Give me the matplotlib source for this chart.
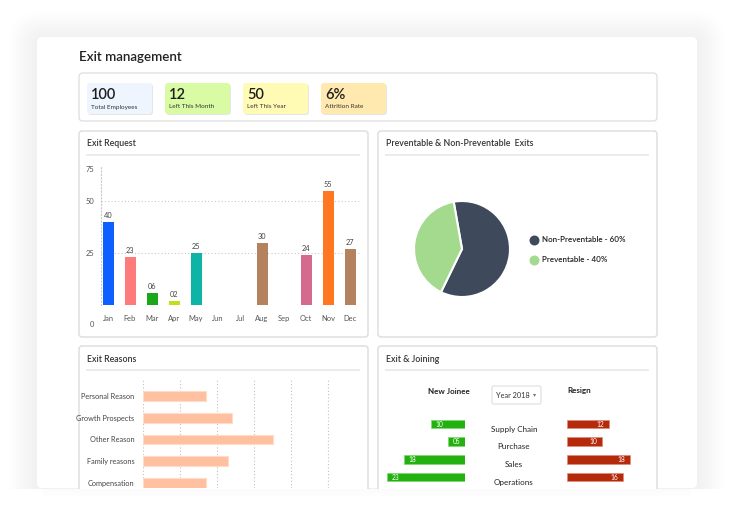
import matplotlib
matplotlib.use("Agg")
import matplotlib.pyplot as plt
from matplotlib.patches import FancyBboxPatch
from matplotlib.transforms import ScaledTranslation, blended_transform_factory

plt.rcParams['font.family'] = ['Lato', 'DejaVu Sans']

# ---- data ----
kpi_values = ['100', '12', '50', '6%']
kpi_labels = ['Total Employees', 'Left This Month', 'Left This Year', 'Attrition Rate']
kpi_colors = ['#EEF5FE', '#D9FBA3', '#FFFBB5', '#FFE9AE']

months = ['Jan', 'Feb', 'Mar', 'Apr', 'May', 'Jun', 'Jul', 'Aug', 'Sep', 'Oct', 'Nov', 'Dec']
exit_requests = [40, 23, 6, 2, 25, 0, 0, 30, 0, 24, 55, 27]
month_colors = ['#0B60FF', '#FF7B7B', '#1AA81A', '#C3DE1C', '#10B4A4', '#999999', '#999999',
                '#B5825F', '#999999', '#D46B8E', '#FF7722', '#B5825F']
req_ticks = [0, 25, 50, 75]

pie_labels = ['Non-Preventable', 'Preventable']
pie_values = [60, 40]
pie_colors = ['#3E4A5B', '#A3DA8D']

reasons = ['Personal Reason', 'Growth Prospects', 'Other Reason', 'Family reasons', 'Compensation']
reason_counts = [17, 24, 35, 23, 17]

departments = ['Supply Chain', 'Purchase', 'Sales', 'Operations']
new_joinee = [10, 5, 18, 23]
resign = [12, 10, 18, 16]

W, H = 734, 524
fig = plt.figure(figsize=(W / 100, H / 100), dpi=100, facecolor='white')

bg = fig.add_axes([0, 0, 1, 1])
bg.set_xlim(0, W)
bg.set_ylim(H, 0)
bg.axis('off')
bg.set_zorder(-1)


def px_axes(x0, y0, x1, y1):
    a = fig.add_axes([x0 / W, 1 - y1 / H, (x1 - x0) / W, (y1 - y0) / H])
    a.patch.set_alpha(0)
    return a


def box(x0, y0, x1, y1, fc='white', ec='#E2E2E2', lw=1, r=3, alpha=1, z=1):
    bg.add_patch(FancyBboxPatch((x0, y0), x1 - x0, y1 - y0,
                                boxstyle='round,pad=0,rounding_size=%g' % r,
                                fc=fc, ec=ec, lw=lw, alpha=alpha, zorder=z))


# outer card with soft shadow
for i in range(14, 0, -1):
    box(37 - i * 2, 37 - i * 2 + 2, 697 + i * 2, 488 + i * 2 + 2, fc='#A0A0A0', ec='none',
        r=6 + i * 2, alpha=0.007, z=0)
box(37, 37, 697, 488, fc='white', ec='none', r=5, z=0.5)

bg.text(79, 57, 'Exit management', fontsize=9.6, fontweight='semibold', color='#222222',
        va='center', ha='left')

# KPI strip
box(79, 73, 657, 121, ec='#E0E0E0', lw=1, r=4)
for i, (v, lab, c) in enumerate(zip(kpi_values, kpi_labels, kpi_colors)):
    x0 = 87 + i * 78
    box(x0 + 1, 84, x0 + 66, 115, fc='#E6E6E6', ec='none', r=3, z=1)
    box(x0, 83, x0 + 65, 114, fc=c, ec='none', r=3, z=1.2)
    bg.text(x0 + 4, 95, v, fontsize=10.5, fontweight='semibold', color='#1E1E1E',
            va='center', ha='left', zorder=2)
    bg.text(x0 + 4, 107, lab, fontsize=4.6, color='#333333', va='center', ha='left', zorder=2)

# panels
panels = [(79, 131, 368, 337, 'Exit Request'),
          (378, 131, 657, 337, 'Preventable & Non-Preventable  Exits'),
          (79, 346, 368, 500, 'Exit Reasons'),
          (378, 346, 657, 500, 'Exit & Joining')]
for x0, y0, x1, y1, title in panels:
    box(x0, y0, x1, y1, ec='#DCDCDC', lw=1, r=3)
    bg.text(x0 + 8, y0 + 13, title, fontsize=6.3, fontweight='semibold', color='#333333',
            va='center', ha='left', zorder=2)
    bg.plot([x0 + 8, x1 - 9], [y0 + 24, y0 + 24], color='#E9E9E9', lw=1.3, zorder=2)

# cut the card at its bottom edge
bg.add_patch(plt.Rectangle((0, 489), W, 40, fc='white', ec='none', zorder=3))
for i in range(8):
    bg.add_patch(plt.Rectangle((37 + 6, 489 + i), 660 - 12, 1, fc='#A0A0A0', ec='none',
                               alpha=0.04 * (8 - i) / 8, zorder=3.1))

# ---- Exit Request bar chart ----
ax = px_axes(101, 149, 360, 305)
xs = list(range(len(months)))
bars = ax.bar(xs, exit_requests, width=0.5, color=month_colors, zorder=3)
ax.bar_label(bars, labels=[f'{v:02d}' if v else '' for v in exit_requests],
             padding=2, fontsize=5.3, color='#444444')
ax.set_xlim(-0.32, 11.45)
ax.set_ylim(0, 75)
ax.set_xticks(xs)
ax.set_xticklabels(months)
ax.set_yticks(req_ticks)
ax.tick_params(length=0, labelsize=5.4, labelcolor='#555555')
ax.tick_params(axis='x', pad=7)
ax.tick_params(axis='y', pad=5)
for s in ['top', 'right', 'bottom']:
    ax.spines[s].set_visible(False)
ax.spines['left'].set_linestyle((0, (1, 2)))
ax.spines['left'].set_color('#C8C8C8')
ax.spines['left'].set_bounds(0, 67)
ax.yaxis.grid(True, linestyle=(0, (1, 2)), color='#C8C8C8', lw=0.8)
ax.get_ygridlines()[3].set_visible(False)
ylabs = ax.get_yticklabels()
ylabs[0].set_transform(ylabs[0].get_transform() + ScaledTranslation(0, -19 / 100, fig.dpi_scale_trans))
ylabs[3].set_transform(ylabs[3].get_transform() + ScaledTranslation(0, -20 / 100, fig.dpi_scale_trans))

# ---- pie ----
pax = px_axes(414, 201, 510, 297)
pax.pie(pie_values, colors=pie_colors, startangle=100, counterclock=False,
        wedgeprops=dict(edgecolor='white', linewidth=1.5))
pax.set_xlim(-1, 1)
pax.set_ylim(-1, 1)
for i, (lab, v, c) in enumerate(zip(pie_labels, pie_values, pie_colors)):
    yy = 240 + i * 20
    bg.scatter([534], [yy], s=38, color=c, zorder=2)
    bg.text(542, yy, f'{lab} - {v}%', fontsize=5.8, fontweight='semibold', color='#222222',
            va='center', ha='left', zorder=2)

# ---- Exit Reasons ----
rax = px_axes(143, 380, 357, 488)
ys = list(range(len(reasons)))
rax.barh(ys, reason_counts, height=0.45, color='#FFC09F', edgecolor='#FFDCC8', lw=0.8, zorder=3)
rax.set_ylim(4.23, -0.73)
rax.set_xlim(0, 57.8)
rax.set_xticks([0, 10, 20, 30, 40, 50])
rax.set_yticks(ys)
rax.set_yticklabels(reasons)
rax.tick_params(length=0, labelsize=5.3, labelcolor='#444444', pad=6)
rax.tick_params(axis='x', labelbottom=False)
rax.xaxis.grid(True, linestyle=(0, (1, 2)), color='#C0C0C0', lw=0.8)
for s in rax.spines.values():
    s.set_visible(False)

# ---- Exit & Joining ----
bg.text(449, 391, 'New Joinee', fontsize=5.8, fontweight='bold', color='#222222',
        ha='center', va='center')
bg.text(567, 391, 'Resign', fontsize=5.8, fontweight='bold', color='#222222',
        ha='left', va='center')
box(492, 386, 541, 404, ec='#DDDDDD', lw=0.8, r=2)
bg.text(496, 396, 'Year 2018', fontsize=5.3, color='#333333', ha='left', va='center', zorder=2)
bg.text(535, 395, '▾', fontsize=4.5, color='#777777', ha='center', va='center', zorder=2,
        family=['DejaVu Sans'])

rows = list(range(len(departments)))
lax = px_axes(377, 412, 465, 488)
gb = lax.barh(rows, new_joinee, height=0.5, color='#22B10F', edgecolor='#7FD86F', lw=0.5)
lax.set_xlim(26, 0)
lax.set_ylim(3.62, -0.68)
lax.bar_label(gb, labels=[f'{v:02d}' for v in new_joinee], label_type='edge', padding=-9,
              fontsize=4.8, color='white')
lax.axis('off')

rax2 = px_axes(567, 412, 655, 488)
rb = rax2.barh(rows, resign, height=0.5, color='#B52A0A', edgecolor='#E08A78', lw=0.5)
rax2.set_xlim(0, 25)
rax2.set_ylim(3.62, -0.68)
rax2.bar_label(rb, labels=[f'{v:02d}' for v in resign], label_type='edge', padding=-9,
               fontsize=4.8, color='white')
rax2.axis('off')
tr = blended_transform_factory(bg.transData, rax2.transData)
for r, d in zip(rows, departments):
    rax2.text(514, r + 0.3, d, transform=tr, fontsize=5.8, color='#222222',
              ha='center', va='center', clip_on=False)

fig.savefig('out.png', dpi=100, facecolor='white')
